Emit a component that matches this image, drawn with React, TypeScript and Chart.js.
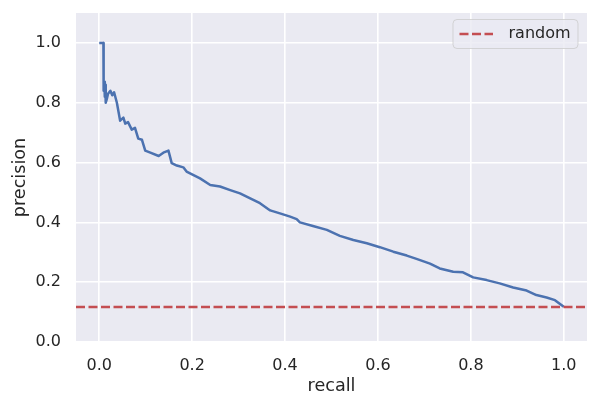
import { useEffect, useRef } from "react";
import { Chart, registerables } from "chart.js";

Chart.register(...registerables);

const recallValues = [
  0, 0.009, 0.0095, 0.011, 0.012, 0.013, 0.014, 0.016, 0.019, 0.024, 0.028, 0.032,
  0.038, 0.045, 0.052, 0.056, 0.062, 0.07, 0.077, 0.084, 0.092, 0.099, 0.11, 0.128,
  0.138, 0.149, 0.156, 0.167, 0.181, 0.188, 0.217, 0.239, 0.26, 0.282, 0.303, 0.325,
  0.346, 0.368, 0.389, 0.411, 0.425, 0.432, 0.46, 0.49, 0.518, 0.547, 0.576, 0.604,
  0.633, 0.662, 0.683, 0.712, 0.733, 0.762, 0.783, 0.805, 0.834, 0.862, 0.891, 0.92,
  0.941, 0.963, 0.981, 1.0,
];
const precisionValues = [
  1.0, 1.0, 0.84, 0.87, 0.82, 0.86, 0.8, 0.81, 0.83, 0.84, 0.825, 0.835,
  0.8, 0.74, 0.75, 0.73, 0.735, 0.71, 0.716, 0.68, 0.676, 0.64, 0.633, 0.622,
  0.633, 0.64, 0.598, 0.59, 0.584, 0.57, 0.547, 0.525, 0.52, 0.508, 0.497, 0.48,
  0.464, 0.44, 0.43, 0.419, 0.411, 0.4, 0.388, 0.375, 0.355, 0.341, 0.33, 0.317,
  0.302, 0.289, 0.278, 0.262, 0.246, 0.235, 0.233, 0.216, 0.207, 0.196, 0.182, 0.172,
  0.157, 0.149, 0.14, 0.118,
];
const randomPrecision = 0.117;
const randomLabel = "random";
const curveLabel = "PR curve";
const xTickValues = [0, 0.2, 0.4, 0.6, 0.8, 1.0];
const yTickValues = [0, 0.2, 0.4, 0.6, 0.8, 1.0];
const xLimits = [-0.05, 1.05];
const yLimits = [0, 1.1];
const xTitle = "recall";
const yTitle = "precision";

const FONT = "'DejaVu Sans', sans-serif";
const TEXT = "#262626";
const BG = "#EAEAF2";
const BLUE = "#4C72B0";
const RED = "#C44E52";

const bgPlugin = {
  id: "bgPlugin",
  beforeDraw(chart: any) {
    const { ctx, chartArea } = chart;
    ctx.save();
    ctx.fillStyle = BG;
    ctx.fillRect(chartArea.left, chartArea.top, chartArea.right - chartArea.left, chartArea.bottom - chartArea.top);
    ctx.restore();
  },
};

const legendPlugin = {
  id: "legendPlugin",
  afterDraw(chart: any) {
    const { ctx, chartArea } = chart;
    const w = 125;
    const h = 29;
    const x = chartArea.right - 9 - w;
    const y = chartArea.top + 6.5;
    ctx.save();
    ctx.beginPath();
    if (ctx.roundRect) ctx.roundRect(x, y, w, h, 4);
    else ctx.rect(x, y, w, h);
    ctx.fillStyle = "rgba(234,234,242,0.8)";
    ctx.fill();
    ctx.strokeStyle = "rgba(204,204,204,0.8)";
    ctx.lineWidth = 1;
    ctx.stroke();
    const cy = y + h / 2;
    ctx.beginPath();
    ctx.setLineDash([9, 3.5]);
    ctx.strokeStyle = RED;
    ctx.lineWidth = 2.5;
    ctx.moveTo(x + 6.5, cy);
    ctx.lineTo(x + 40, cy);
    ctx.stroke();
    ctx.setLineDash([]);
    ctx.fillStyle = TEXT;
    ctx.font = `16px ${FONT}`;
    ctx.textAlign = "left";
    ctx.textBaseline = "middle";
    ctx.fillText(randomLabel, x + 55.5, cy);
    ctx.restore();
  },
};

export default function App() {
  const ref = useRef<HTMLCanvasElement | null>(null);
  useEffect(() => {
    if (!ref.current) return;
    const curve = recallValues.map((r, i) => ({ x: r, y: precisionValues[i] }));
    const baseline = xLimits.map((x) => ({ x, y: randomPrecision }));
    const chart = new Chart(ref.current, {
      type: "line",
      data: {
        datasets: [
          {
            label: randomLabel,
            data: baseline,
            borderColor: RED,
            borderWidth: 2.5,
            borderDash: [9, 3.5],
            pointRadius: 0,
            order: 0,
          },
          {
            label: curveLabel,
            data: curve,
            borderColor: BLUE,
            borderWidth: 2.5,
            pointRadius: 0,
            borderJoinStyle: "round",
            tension: 0,
            order: 1,
          },
        ],
      },
      options: {
        responsive: false,
        animation: false,
        devicePixelRatio: 1,
        layout: { padding: { left: 0, right: 11, top: 13, bottom: 0 } },
        plugins: { legend: { display: false }, tooltip: { enabled: false } },
        scales: {
          x: {
            type: "linear",
            min: xLimits[0],
            max: xLimits[1],
            afterBuildTicks: (s: any) => {
              s.ticks = xTickValues.map((v) => ({ value: v }));
            },
            afterFit: (s: any) => {
              s.height = 67;
              s.paddingLeft = 0;
              s.paddingRight = 0;
            },
            ticks: {
              callback: (v: any) => Number(v).toFixed(1),
              font: { family: FONT, size: 16 },
              color: TEXT,
              padding: 14,
              maxRotation: 0,
              autoSkip: false,
            },
            grid: { color: "#ffffff", lineWidth: 1.6, drawTicks: false },
            border: { display: false },
            title: {
              display: true,
              text: xTitle,
              font: { family: FONT, size: 17.6 },
              color: TEXT,
              padding: { top: 0, bottom: 12 },
            },
          },
          y: {
            type: "linear",
            min: yLimits[0],
            max: yLimits[1],
            afterBuildTicks: (s: any) => {
              s.ticks = yTickValues.map((v) => ({ value: v }));
            },
            afterFit: (s: any) => {
              s.width = 76;
              s.paddingTop = 0;
              s.paddingBottom = 0;
            },
            ticks: {
              callback: (v: any) => Number(v).toFixed(1),
              font: { family: FONT, size: 16 },
              color: TEXT,
              padding: 15,
              autoSkip: false,
            },
            grid: { color: "#ffffff", lineWidth: 1.6, drawTicks: false },
            border: { display: false },
            title: {
              display: true,
              text: yTitle,
              font: { family: FONT, size: 17.6 },
              color: TEXT,
              padding: { top: 10, bottom: 0 },
            },
          },
        },
      },
      plugins: [bgPlugin, legendPlugin],
    } as any);
    return () => chart.destroy();
  }, []);
  return (
    <div style={{ position: "absolute", left: 0, top: 0, width: 598, height: 409, background: "#ffffff" }}>
      <canvas ref={ref} width={598} height={409} style={{ display: "block" }} />
    </div>
  );
}
